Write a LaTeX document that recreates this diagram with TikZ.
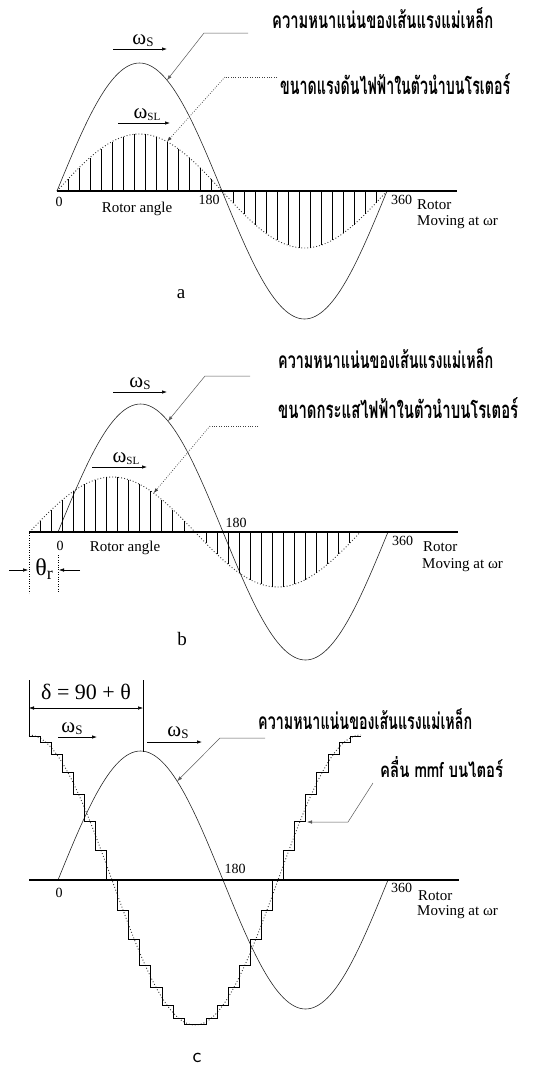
\documentclass[tikz,border=0pt]{standalone}
\usepackage{fontspec}
\setmainfont{Liberation Serif}
\newfontfamily\thai[Script=Thai]{Loma}
\usetikzlibrary{arrows.meta}
\newcommand\omS{ω\raisebox{-2.5pt}{\fontsize{13}{13}\selectfont S}}
\newcommand\omSL{ω\raisebox{-2.5pt}{\fontsize{11}{11}\selectfont SL}}
\newcommand\thw[2]{\resizebox{#1pt}{21pt}{\thai\bfseries #2}}
\begin{document}
\begin{tikzpicture}[x=1pt,y=-1pt,
  curve/.style={line width=0.6pt,black!85},
  dotcurve/.style={line width=0.9pt,black!80,dash pattern=on 0.9pt off 2.1pt},
  axisline/.style={line width=1.3pt},
  hatchline/.style={line width=0.9pt},
  stair/.style={line width=0.6pt,black},
  leader/.style={line width=0.5pt,black!65},
  dleader/.style={line width=0.7pt,black!75,dash pattern=on 0.8pt off 1.6pt},
  tipa/.style={-{Latex[length=5pt,width=3.5pt]}},
  lbl/.style={font=\fontsize{15}{17}\selectfont,inner sep=0pt},
  num/.style={font=\fontsize{14}{16}\selectfont,inner sep=0pt},
  omlbl/.style={font=\fontsize{21}{23}\selectfont,inner sep=0pt,anchor=south},
  panel/.style={font=\fontsize{19}{21}\selectfont,inner sep=0pt},
  thailbl/.style={inner sep=0pt,anchor=base west}]
\useasboundingbox (0,0) rectangle (536,1069);

% ================= panel a =================
\draw[curve] plot[domain=0:360,samples=121,smooth] ({57+\x/360*330},{191-128*sin(\x)});
\draw[dotcurve] plot[domain=0:360,samples=121,smooth] ({57+\x/360*330},{191-57*sin(\x)});
\foreach \k in {1,...,14}
  \draw[hatchline] ({57+\k*11},191) -- ({57+\k*11},{191-57*sin(\k*12)});
\foreach \k in {16,...,29}
  \draw[hatchline] ({57+\k*11},191) -- ({57+\k*11},{191-57*sin(\k*12)});
\coordinate (axa1) at (57,191);
\coordinate (axa2) at (457,191);
\draw[axisline] (axa1) -- (axa2);

\node[num] (a0) at (59,202) {0};
\node[lbl] (arot) at (137,209) {Rotor angle};
\node[num] (a180) at (209,200) {180};
\node[num,anchor=west] (a360) at (391,200) {360};
\node[lbl,anchor=west] (aR) at (417,205) {Rotor};
\node[lbl,anchor=west] (aM) at (417,222) {Moving at ωr};
\node[panel] (pa) at (181,294) {a};

\coordinate (wsa1) at (113,49); \coordinate (wsa2) at (167,49);
\draw[leader,black,line width=0.7pt,tipa] (wsa1) -- (wsa2);
\node[omlbl] (wsa) at (143,47) {\omS};
\coordinate (wsla1) at (118,123); \coordinate (wsla2) at (170,123);
\draw[leader,black,line width=0.7pt,tipa] (wsla1) -- (wsla2);
\node[omlbl] (wsla) at (147,121) {\omSL};

\node[thailbl] (ta1) at (272,28) {\thw{221}{ความหนาแน่นของเส้นแรงแม่เหล็ก}};
\node[thailbl] (ta2) at (280,94) {\thw{230}{ขนาดแรงดันไฟฟ้าในตัวนำบนโรเตอร์}};
\coordinate (la1) at (204,33); \coordinate (la1e) at (248,33);
\coordinate (pa1) at ({57+120/360*330},{191-128*sin(120)});
\draw[leader,tipa] (la1e) -- (la1) -- (pa1);
\coordinate (la2) at (225,77); \coordinate (la2e) at (277,77);
\coordinate (pa2) at ({57+120/360*330},{191-57*sin(120)});
\draw[dleader] (la2e) -- (la2);
\draw[dleader,tipa] (la2) -- (pa2);

% ================= panel b =================
\draw[curve] plot[domain=0:360,samples=121,smooth] ({58+\x/360*330},{532-128*sin(\x)});
\draw[dotcurve] plot[domain=0:360,samples=121,smooth] ({29.5+\x/360*331},{532-55*sin(\x)});
\foreach \k in {1,...,14}
  \draw[hatchline] ({29.5+\k*11.033},532) -- ({29.5+\k*11.033},{532-55*sin(\k*12)});
\foreach \k in {16,...,29}
  \draw[hatchline] ({29.5+\k*11.033},532) -- ({29.5+\k*11.033},{532-55*sin(\k*12)});
\coordinate (axb1) at (29,532);
\coordinate (axb2) at (458,532);
\draw[axisline] (axb1) -- (axb2);

\node[num] (b0) at (60,546) {0};
\node[lbl] (brot) at (125,548) {Rotor angle};
\node[num] (b180) at (236,523) {180};
\node[num,anchor=west] (b360) at (392,541) {360};
\node[lbl,anchor=west] (bR) at (423,547) {Rotor};
\node[lbl,anchor=west] (bM) at (422,565) {Moving at ωr};
\node[panel] (pb) at (182,639) {b};

\coordinate (wsb1) at (113,392); \coordinate (wsb2) at (167,392);
\draw[leader,black,line width=0.7pt,tipa] (wsb1) -- (wsb2);
\node[omlbl] (wsb) at (140,390) {\omS};
\coordinate (wslb1) at (92,467); \coordinate (wslb2) at (147,467);
\draw[leader,black,line width=0.7pt,tipa] (wslb1) -- (wslb2);
\node[omlbl] (wslb) at (126,465) {\omSL};

\node[thailbl] (tb1) at (278,368) {\thw{215}{ความหนาแน่นของเส้นแรงแม่เหล็ก}};
\node[thailbl] (tb2) at (278,418) {\thw{240}{ขนาดกระแสไฟฟ้าในตัวนำบนโรเตอร์}};
\coordinate (lb1) at (205,376); \coordinate (lb1e) at (250,376);
\coordinate (pb1) at ({58+120/360*330},{532-128*sin(120)});
\draw[leader,tipa] (lb1e) -- (lb1) -- (pb1);
\coordinate (lb2) at (210,426); \coordinate (lb2e) at (258,426);
\coordinate (pb2) at ({29.5+135/360*331},{532-55*sin(135)});
\draw[dleader] (lb2e) -- (lb2);
\draw[dleader,tipa] (lb2) -- (pb2);

% theta_r
\coordinate (tr1a) at (29,533); \coordinate (tr1b) at (29,593);
\coordinate (tr2a) at (58,555); \coordinate (tr2b) at (58,593);
\draw[dleader,black] (tr1a) -- (tr1b);
\draw[dleader,black] (tr2a) -- (tr2b);
\coordinate (tra1) at (9,570); \coordinate (tra2) at (28,570);
\coordinate (trb1) at (80,570); \coordinate (trb2) at (59,570);
\draw[leader,black,tipa] (tra1) -- (tra2);
\draw[leader,black,tipa] (trb1) -- (trb2);
\node[inner sep=0pt,font=\fontsize{24}{26}\selectfont] (thr) at (44,569) {θ\raisebox{-4pt}{\fontsize{18}{18}\selectfont r}};

% ================= panel c =================
\draw[curve] plot[domain=0:360,samples=121,smooth] ({58+\x/360*330},{880-129*sin(\x)});
\draw[dotcurve] plot[domain=0:360,samples=121,smooth] ({29+\x/360*332},{880-145*cos(\x)});
\draw[stair] (29,{880-145*cos(6)})
  \foreach \k in {0,...,29}{
    -- ({29+(\k+1)*11.0667},{880-145*cos((\k+0.5)*12)})
    -- ({29+(\k+1)*11.0667},{880-145*cos((\k+1.5)*12)}) };
\coordinate (axc1) at (29,880);
\coordinate (axc2) at (459,880);
\draw[axisline] (axc1) -- (axc2);

\node[num] (c0) at (59,893) {0};
\node[num] (c180) at (235,869) {180};
\node[num,anchor=west] (c360) at (391,888) {360};
\node[lbl,anchor=west] (cR) at (418,896) {Rotor};
\node[lbl,anchor=west] (cM) at (417,912) {Moving at ωr};
\node[panel,font=\fontsize{21}{23}\selectfont\sffamily] (pc) at (197,1058) {c};

% delta dimension
\coordinate (d1a) at (29,680); \coordinate (d1b) at (29,736);
\coordinate (d2a) at (143,680); \coordinate (d2b) at (143,752);
\draw[leader,black,line width=0.6pt] (d1a) -- (d1b);
\draw[leader,black,line width=0.6pt] (d2a) -- (d2b);
\coordinate (da1) at (29,708); \coordinate (da2) at (143,708);
\draw[leader,black,{Latex[length=5pt,width=3.5pt]}-{Latex[length=5pt,width=3.5pt]}] (da1) -- (da2);
\node[inner sep=0pt,font=\fontsize{22}{24}\selectfont] (delta) at (86,692) {δ = 90 + θ};

\coordinate (wsc1) at (58,737); \coordinate (wsc2) at (97,737);
\draw[leader,black,line width=0.7pt,tipa] (wsc1) -- (wsc2);
\node[omlbl] (wsc) at (72,735) {\omS};
\coordinate (wsd1) at (147,742); \coordinate (wsd2) at (202,742);
\draw[leader,black,line width=0.7pt,tipa] (wsd1) -- (wsd2);
\node[omlbl] (wsd) at (178,739) {\omS};

\node[thailbl] (tc1) at (258,729) {\thw{214}{ความหนาแน่นของเส้นแรงแม่เหล็ก}};
\node[thailbl] (tc2) at (380,777) {\thw{123}{คลื่น mmf บนไตอร์}};
\coordinate (lc1) at (220,738); \coordinate (lc1e) at (265,738);
\coordinate (pc1) at ({58+130/360*330},{880-129*sin(130)});
\draw[leader,tipa] (lc1e) -- (lc1) -- (pc1);
\coordinate (lc2s) at (373,783); \coordinate (lc2) at (348,822); \coordinate (pc2) at (307,822);
\draw[leader,tipa] (lc2s) -- (lc2) -- (pc2);
\end{tikzpicture}
\end{document}
